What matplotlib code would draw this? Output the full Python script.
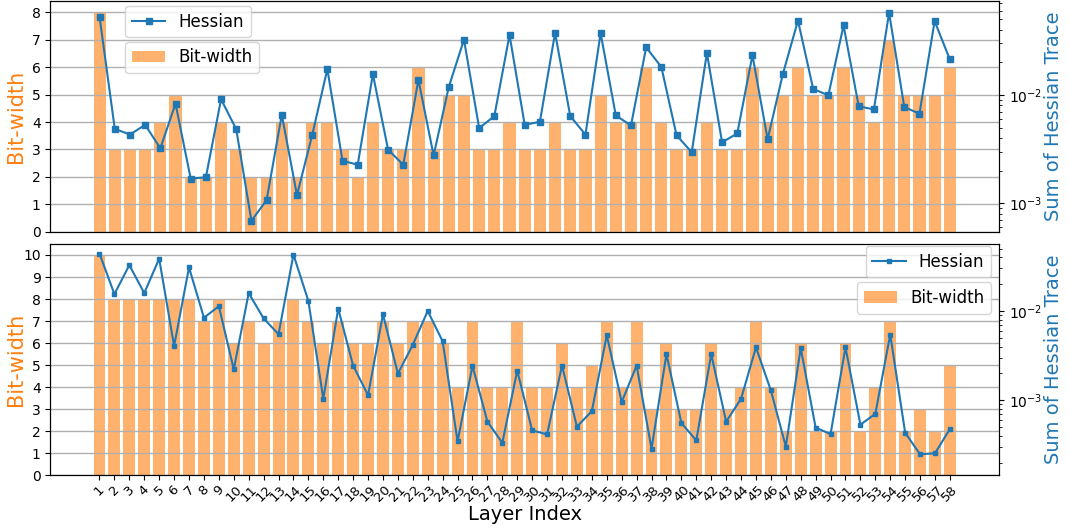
import numpy as np
import matplotlib
matplotlib.use("Agg")
import matplotlib.pyplot as plt

# Top model: 57 layers, bottom model: 58 layers
bits_top = [8, 3, 3, 3, 4, 5, 2, 2, 4, 3,
            2, 2, 4, 2, 4, 4, 3, 2, 4, 3,
            3, 6, 3, 5, 5, 3, 3, 4, 3, 3,
            4, 3, 3, 5, 4, 4, 6, 4, 3, 3,
            4, 3, 3, 6, 4, 5, 6, 5, 5, 6,
            5, 4, 7, 5, 5, 5, 6]
hess_top = [0.0522, 0.00487, 0.00431, 0.00530, 0.00322, 0.00831, 0.00169, 0.00174, 0.00912, 0.00483,
            0.000690, 0.00107, 0.00656, 0.00119, 0.00425, 0.0173, 0.00247, 0.00227, 0.01556, 0.00313,
            0.00227, 0.01377, 0.00277, 0.01186, 0.0324, 0.00494, 0.00638, 0.0358, 0.00530, 0.00565,
            0.0374, 0.00638, 0.00431, 0.0372, 0.00647, 0.00523, 0.0275, 0.0181, 0.00425, 0.00296,
            0.0244, 0.00366, 0.00441, 0.0233, 0.00390, 0.01556, 0.0486, 0.01137, 0.00993, 0.0438,
            0.00785, 0.00736, 0.0574, 0.00774, 0.00671, 0.0480, 0.0213]

bits_bot = [10, 8, 8, 8, 8, 8, 8, 7, 8, 6,
            7, 6, 7, 8, 7, 6, 7, 6, 6, 7,
            6, 7, 7, 6, 4, 7, 4, 4, 7, 4,
            4, 6, 4, 5, 7, 4, 7, 3, 6, 3,
            3, 6, 3, 4, 7, 4, 2, 6, 2, 2,
            6, 2, 4, 7, 2, 3, 2, 5]
hess_bot = [0.0439, 0.01545, 0.0326, 0.01585, 0.0385, 0.00405, 0.0307, 0.00841, 0.01129, 0.00222,
            0.01585, 0.00826, 0.00549, 0.0427, 0.01297, 0.00104, 0.01062, 0.00245, 0.00114, 0.00917,
            0.00199, 0.00419, 0.0100, 0.00457, 0.000347, 0.00243, 0.000578, 0.000335, 0.00215, 0.000461,
            0.000416, 0.00245, 0.000508, 0.000757, 0.00535, 0.000958, 0.00245, 0.000288, 0.00329, 0.000558,
            0.000356, 0.00329, 0.000578, 0.00104, 0.00391, 0.00129, 0.000304, 0.00385, 0.000495, 0.000419,
            0.00391, 0.000535, 0.000706, 0.00544, 0.000434, 0.000249, 0.000256, 0.000478]

layer_labels = [str(i) for i in range(1, len(bits_bot) + 1)]

fig = plt.figure(figsize=(10.68, 5.29), dpi=100)
ax_top = fig.add_axes([0.0472, 0.562, 0.8882, 0.4352])
ax_bot = fig.add_axes([0.0472, 0.1015, 0.8882, 0.4373])

def draw_panel(ax, bits, hess, ymax, hlim, hess_loc, bit_loc, ms):
    x = np.arange(len(bits))
    ax.bar(x, bits, width=0.8, color='#ff7f0e', alpha=0.6, label='Bit-width')
    ax.set_ylim(0, ymax)
    ax.set_yticks(range(0, int(ymax) + 1))
    ax.yaxis.grid(True, color='#b0b0b0', linewidth=1.0)
    ax.set_ylabel('Bit-width', color='#ff7f0e', fontsize=15)
    ax.yaxis.set_label_coords(-0.0257, 0.5)
    ax.tick_params(axis='y', labelsize=10)

    ax2 = ax.twinx()
    ax2.plot(x, hess, color='#1f77b4', marker='s', markersize=ms, linewidth=1.5, label='Hessian')
    ax2.set_yscale('log')
    ax2.set_ylim(*hlim)
    ax2.set_ylabel('Sum of Hessian Trace', color='#1f77b4', fontsize=14)
    ax2.yaxis.set_label_coords(1.0475, 0.5)
    ax2.tick_params(axis='y', labelsize=10)

    ax2.legend(loc=hess_loc[0], bbox_to_anchor=hess_loc[1], borderaxespad=0, fontsize=12)
    ax.legend(loc=bit_loc[0], bbox_to_anchor=bit_loc[1], borderaxespad=0, fontsize=12)
    return ax2

draw_panel(ax_top, bits_top, hess_top, 8.4, (5.47e-4, 0.0729),
           ('upper left', (0.079, 0.98)), ('upper left', (0.079, 0.825)), 4)
ax_top.set_xticks([])

draw_panel(ax_bot, bits_bot, hess_bot, 10.5, (1.45e-4, 0.0562),
           ('upper right', (0.9916, 0.991)), ('upper right', (0.9916, 0.834)), 3)
ax_bot.set_xticks(np.arange(len(bits_bot)))
ax_bot.set_xticklabels(layer_labels, rotation=45, fontsize=9.5)
ax_bot.tick_params(axis='x', pad=2)
ax_bot.set_xlabel('Layer Index', fontsize=14)
ax_bot.xaxis.set_label_coords(0.5, -0.127)

fig.savefig('out.png', dpi=100)
